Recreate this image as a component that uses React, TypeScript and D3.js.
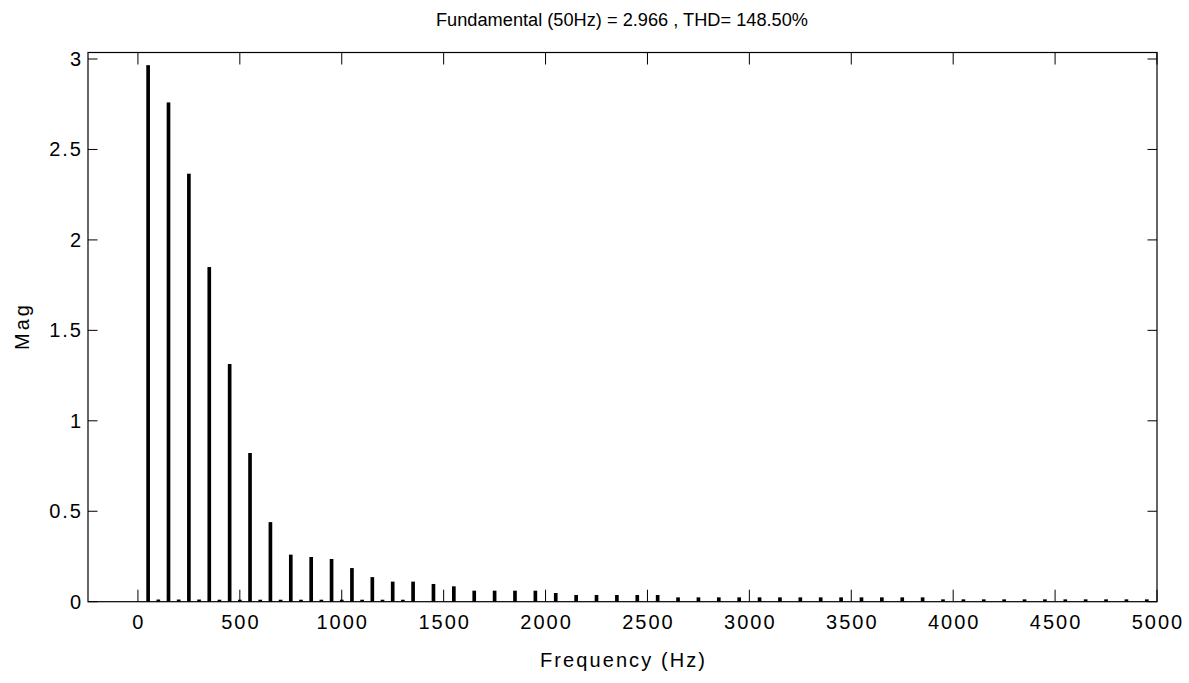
import React from "react";
import * as d3 from "d3";

// Odd harmonics (50 Hz, 150 Hz, ... 4950 Hz) magnitudes
const oddFreqs = [
  50, 150, 250, 350, 450, 550, 650, 750, 850, 950,
  1050, 1150, 1250, 1350, 1450, 1550, 1650, 1750, 1850, 1950,
  2050, 2150, 2250, 2350, 2450, 2550, 2650, 2750, 2850, 2950,
  3050, 3150, 3250, 3350, 3450, 3550, 3650, 3750, 3850, 3950,
  4050, 4150, 4250, 4350, 4450, 4550, 4650, 4750, 4850, 4950,
];
const oddMags = [
  2.966, 2.76, 2.366, 1.85, 1.314, 0.822, 0.44, 0.26, 0.247, 0.236,
  0.186, 0.136, 0.111, 0.111, 0.098, 0.085, 0.061, 0.061, 0.061, 0.061,
  0.048, 0.037, 0.037, 0.037, 0.037, 0.037, 0.024, 0.024, 0.024, 0.024,
  0.024, 0.024, 0.024, 0.024, 0.024, 0.024, 0.024, 0.024, 0.024, 0.013,
  0.013, 0.013, 0.013, 0.013, 0.013, 0.013, 0.013, 0.013, 0.013, 0.013,
];

// Even harmonics with a small residual magnitude
const evenFreqs = [100, 200, 300, 400, 500, 600, 700, 800, 900, 1000, 1100, 1200, 1300];
const evenMags = [0.012, 0.012, 0.012, 0.011, 0.011, 0.011, 0.011, 0.011, 0.011, 0.011, 0.011, 0.011, 0.011];

const xTicks = [0, 500, 1000, 1500, 2000, 2500, 3000, 3500, 4000, 4500, 5000];
const yTicks = [0, 0.5, 1, 1.5, 2, 2.5, 3];

const titleText = "Fundamental (50Hz) = 2.966 , THD= 148.50%";
const xLabel = "Frequency (Hz)";
const yLabel = "Mag";

const W = 1189;
const H = 683;
const left = 88;
const right = 1157;
const top = 52.5;
const bottom = 601.7;
const font = "Arial, 'Liberation Sans', Helvetica, sans-serif";

export default function App() {
  const x = d3.scaleLinear().domain([-245, 5000]).range([left, right]);
  const y = d3.scaleLinear().domain([0, 3.036]).range([bottom, top]);
  const barHz = 18;
  const bw = x(barHz) - x(0);

  const bars = [
    ...oddFreqs.map((f, i) => ({ f, m: oddMags[i] })),
    ...evenFreqs.map((f, i) => ({ f, m: evenMags[i] })),
  ];

  const xTickLen = 12;
  const yTickLen = 9.5;
  const tickFont = 20;
  const tickSpacing = 2;

  return (
    <svg
      width={W}
      height={H}
      style={{ position: "absolute", left: 0, top: 0, background: "#fff" }}
      fontFamily={font}
    >
      <rect x={0} y={0} width={W} height={H} fill="#fff" />
      <g>
        {bars.map((b, i) => (
          <rect
            key={i}
            x={x(b.f) - bw / 2}
            y={y(b.m)}
            width={bw}
            height={Math.max(0, y(0) - y(b.m))}
            fill="#000"
          />
        ))}
      </g>
      {/* axes box */}
      <rect
        x={left}
        y={top}
        width={right - left}
        height={bottom - top}
        fill="none"
        stroke="#000"
        strokeWidth={1.2}
      />
      {/* x ticks, drawn inward on the bottom and top edges */}
      {xTicks.map((t) => (
        <g key={"x" + t}>
          <line x1={x(t)} x2={x(t)} y1={bottom} y2={bottom - xTickLen} stroke="#000" strokeWidth={1} />
          <line x1={x(t)} x2={x(t)} y1={top} y2={top + xTickLen} stroke="#000" strokeWidth={1} />
          <text
            x={x(t) + tickSpacing / 2}
            y={bottom + 27.5}
            textAnchor="middle"
            fontSize={tickFont}
            letterSpacing={tickSpacing}
            fill="#000"
          >
            {t}
          </text>
        </g>
      ))}
      {/* y ticks, drawn inward on the left and right edges */}
      {yTicks.map((t) => (
        <g key={"y" + t}>
          <line x1={left} x2={left + yTickLen} y1={y(t)} y2={y(t)} stroke="#000" strokeWidth={1} />
          <line x1={right} x2={right - yTickLen} y1={y(t)} y2={y(t)} stroke="#000" strokeWidth={1} />
          <text
            x={81 + tickSpacing}
            y={y(t) + 7}
            textAnchor="end"
            fontSize={tickFont}
            letterSpacing={tickSpacing}
            fill="#000"
          >
            {t}
          </text>
        </g>
      ))}
      <text
        x={436}
        y={26}
        fontSize={18}
        fill="#000"
        textLength={372}
        lengthAdjust="spacingAndGlyphs"
      >
        {titleText}
      </text>
      <text
        x={540}
        y={667}
        fontSize={20}
        fill="#000"
        textLength={165}
        lengthAdjust="spacing"
      >
        {xLabel}
      </text>
      <text
        transform={`translate(29, 350) rotate(-90)`}
        fontSize={20}
        fill="#000"
        textLength={45}
        lengthAdjust="spacing"
      >
        {yLabel}
      </text>
    </svg>
  );
}
